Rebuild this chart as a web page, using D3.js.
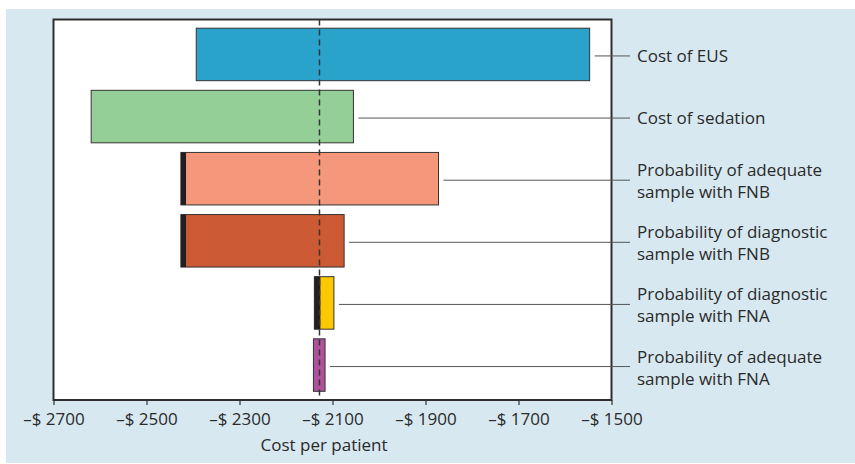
<!DOCTYPE html>
<html>
<head>
<meta charset="utf-8">
<script src="https://cdn.jsdelivr.net/npm/d3@7.9.0/dist/d3.min.js"></script>
<style>
  html, body { margin: 0; padding: 0; background: #fff; }
  svg { display: block; }
  text { font-family: "Open Sans", "Noto Sans", sans-serif; fill: #2a2a2a; }
</style>
</head>
<body>
<svg id="chart" width="855" height="464"></svg>
<script>
// --- data ---
const factors = [
  "Cost of EUS",
  "Cost of sedation",
  "Probability of adequate sample with FNB",
  "Probability of diagnostic sample with FNB",
  "Probability of diagnostic sample with FNA",
  "Probability of adequate sample with FNA"
];
const labelLines = [
  ["Cost of EUS"],
  ["Cost of sedation"],
  ["Probability of adequate", "sample with FNB"],
  ["Probability of diagnostic", "sample with FNB"],
  ["Probability of diagnostic", "sample with FNA"],
  ["Probability of adequate", "sample with FNA"]
];
const lowValues  = [-2393, -2619, -2426, -2426, -2139, -2141];
const highValues = [-1547, -2055, -1872, -2075, -2097, -2116];
// dark end segment on the low side (null = none)
const darkEnds   = [null, null, -2415, -2415, -2126, null];
const barColors  = ["#29a3cc", "#94cf98", "#f5977b", "#cc5a35", "#fcc800", "#b0519c"];
const baseCost = -2128;
const tickValues = [-2700, -2500, -2300, -2100, -1900, -1700, -1500];

const svg = d3.select('#chart');

// panel background
svg.append('rect')
  .attr('x', 6).attr('y', 9)
  .attr('width', 849).attr('height', 454)
  .attr('fill', '#d7e8f0');

const plot = { left: 53.5, right: 611.5, top: 19.5, bottom: 400 };

const x = d3.scaleLinear().domain([-2700, -1500]).range([plot.left, plot.right]);
const y = d3.scaleBand().domain(factors)
  .range([plot.top, plot.bottom])
  .paddingInner(0.155).paddingOuter(0.14);

// plot area
svg.append('rect')
  .attr('x', plot.left).attr('y', plot.top)
  .attr('width', plot.right - plot.left).attr('height', plot.bottom - plot.top)
  .attr('fill', '#fff').attr('stroke', '#2e2e2e').attr('stroke-width', 2);

// bars
const rows = factors.map((f, i) => ({
  factor: f, lo: lowValues[i], hi: highValues[i], dark: darkEnds[i],
  color: barColors[i], lines: labelLines[i]
}));

svg.append('g').selectAll('rect')
  .data(rows).join('rect')
  .attr('x', d => x(d.lo))
  .attr('y', d => y(d.factor))
  .attr('width', d => x(d.hi) - x(d.lo))
  .attr('height', y.bandwidth())
  .attr('fill', d => d.color)
  .attr('stroke', '#333').attr('stroke-width', 1);

svg.append('g').selectAll('rect')
  .data(rows.filter(d => d.dark !== null)).join('rect')
  .attr('x', d => x(d.lo))
  .attr('y', d => y(d.factor))
  .attr('width', d => x(d.dark) - x(d.lo))
  .attr('height', y.bandwidth())
  .attr('fill', '#231f20');

// base case dashed line
svg.append('line')
  .attr('x1', x(baseCost)).attr('x2', x(baseCost))
  .attr('y1', plot.top).attr('y2', plot.bottom)
  .attr('stroke', '#333').attr('stroke-width', 1.5)
  .attr('stroke-dasharray', '6,4');

// leader lines + labels
const leaderEnd = 630;
rows.forEach(d => {
  const cy = y(d.factor) + y.bandwidth() / 2 + 1.5;
  svg.append('line')
    .attr('x1', x(d.hi) + 5).attr('x2', leaderEnd)
    .attr('y1', cy).attr('y2', cy)
    .attr('stroke', '#555').attr('stroke-width', 1);
  const t = svg.append('text')
    .attr('x', 637)
    .style('font-size', '17px');
  if (d.lines.length === 1) {
    t.attr('y', cy + 6).text(d.lines[0]);
  } else {
    d.lines.forEach((ln, k) => {
      t.append('tspan').attr('x', 637).attr('y', cy - 4 + k * 22).text(ln);
    });
  }
});

// x axis
const axis = d3.axisBottom(x)
  .tickValues(tickValues)
  .tickSize(5)
  .tickSizeOuter(0)
  .tickFormat(v => '\u2013$ ' + Math.abs(v));

const gx = svg.append('g')
  .attr('transform', `translate(0,${plot.bottom})`)
  .call(axis);
gx.select('.domain').remove();
gx.selectAll('.tick line').attr('stroke', '#333').attr('stroke-width', 1.2);
gx.selectAll('.tick text')
  .attr('y', 0).attr('dy', null)
  .attr('transform', 'translate(0,24.5)')
  .style('font-size', '17px')
  .style('font-family', '"Open Sans", "Noto Sans", sans-serif')
  .attr('fill', '#2a2a2a');

svg.append('text')
  .attr('x', 324).attr('y', 450.5)
  .attr('text-anchor', 'middle')
  .style('font-size', '17px')
  .text('Cost per patient');
</script>
</body>
</html>
